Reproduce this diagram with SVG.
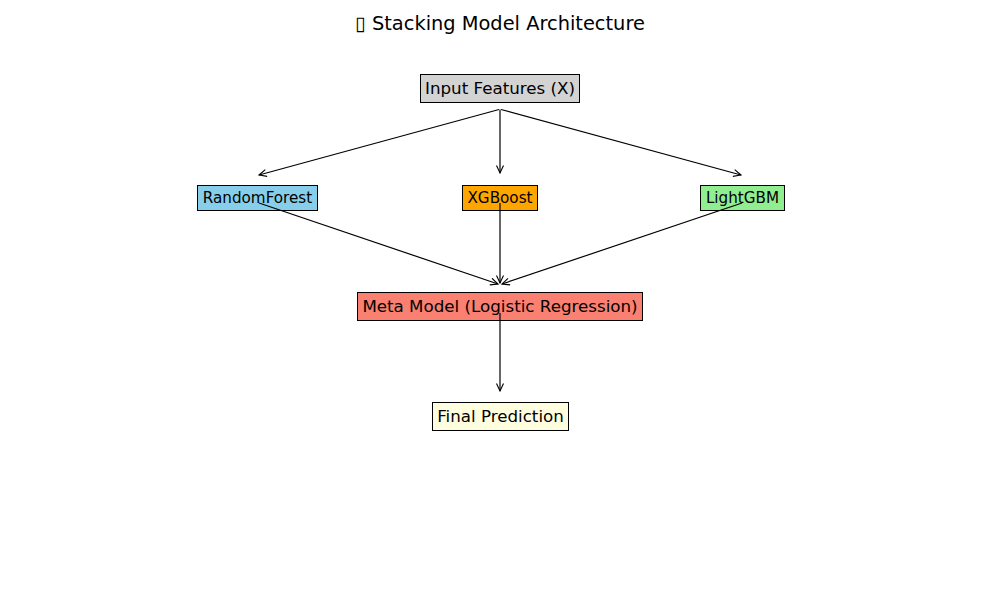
<svg xmlns="http://www.w3.org/2000/svg" width="1000" height="600" viewBox="0 0 1000 600">
<defs>
<marker id="ah" markerWidth="10" markerHeight="10" refX="8" refY="4" orient="auto" markerUnits="userSpaceOnUse">
<path d="M0.5,0.5 L8,4 L0.5,7.5" fill="none" stroke="#000" stroke-width="1.1"/>
</marker>
<style>
text{font-family:"DejaVu Sans","Liberation Sans",sans-serif;fill:#000;text-anchor:middle;dominant-baseline:central}
.box{stroke:#000;stroke-width:1}
.l{font-size:16.7px}
.s{font-size:15.2px}
.c line{stroke:#000;stroke-width:1.2;marker-end:url(#ah)}
</style>
</defs>
<rect width="1000" height="600" fill="#fff"/>
<text x="500" y="23.5" style="font-size:19.4px">▯ Stacking Model Architecture</text>
<g id="input"><rect class="box" x="420.5" y="74.5" width="159" height="28" fill="#d3d3d3"/><text class="l" x="500" y="87.5">Input Features (X)</text></g>
<g id="rf"><rect class="box" x="197.5" y="185.5" width="120" height="25" fill="#87ceeb"/><text class="s" x="257.5" y="197.5">RandomForest</text></g>
<g id="xgb"><rect class="box" x="462.5" y="185.5" width="75" height="25" fill="#ffa500"/><text class="s" x="500" y="197.5">XGBoost</text></g>
<g id="lgbm"><rect class="box" x="700.5" y="185.5" width="84" height="25" fill="#90ee90"/><text class="s" x="742.5" y="197.5">LightGBM</text></g>
<g id="meta"><rect class="box" x="357.5" y="292.5" width="285" height="28" fill="#fa8072"/><text class="l" x="500" y="305.5">Meta Model (Logistic Regression)</text></g>
<g id="final"><rect class="box" x="432.5" y="402.5" width="136" height="28" fill="#ffffe0"/><text class="l" x="500.5" y="415.5">Final Prediction</text></g>
<g id="connectors" class="c">
<line x1="499" y1="109.5" x2="259" y2="175"/>
<line x1="500" y1="109.5" x2="500" y2="173"/>
<line x1="501" y1="109.5" x2="741" y2="175"/>
<line x1="259" y1="203" x2="498" y2="284"/>
<line x1="500" y1="203" x2="500" y2="283"/>
<line x1="742" y1="203" x2="502" y2="284"/>
<line x1="500" y1="313" x2="500" y2="391"/>
</g>
</svg>
